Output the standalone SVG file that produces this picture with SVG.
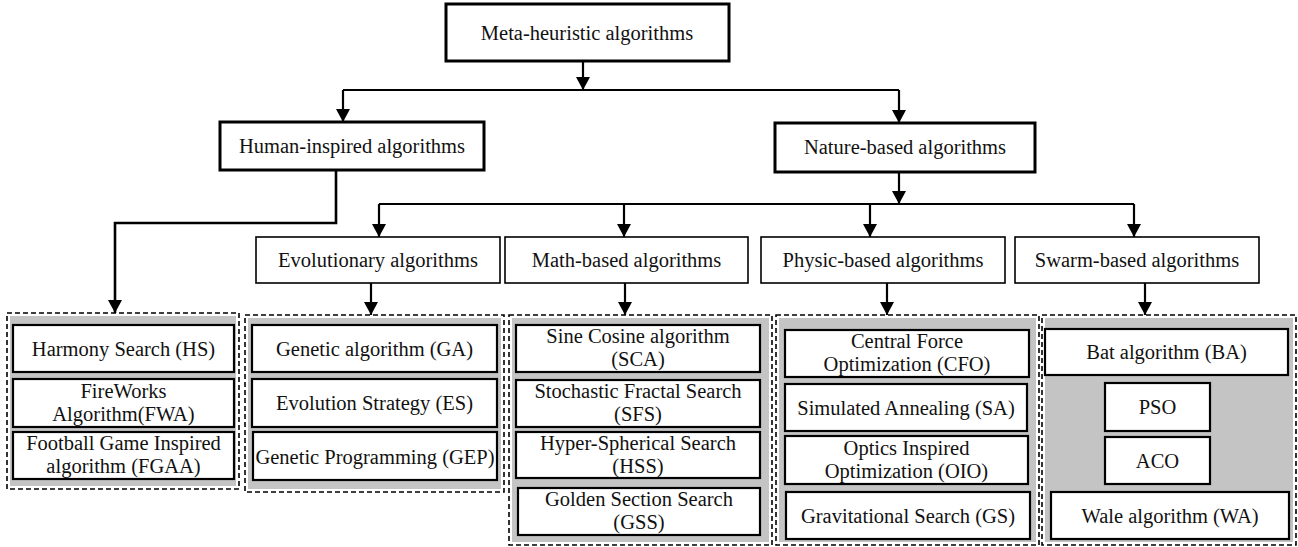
<svg xmlns="http://www.w3.org/2000/svg" width="1298" height="547" viewBox="0 0 1298 547">
<defs>
<marker id="ah" viewBox="0 0 13 14" refX="13" refY="7" markerWidth="13" markerHeight="14" markerUnits="userSpaceOnUse" orient="auto">
<path d="M0,0 L13,7 L0,14 z" fill="#000"/>
</marker>
<style>
text{font-family:'Liberation Serif','Times New Roman',Times,serif;font-size:20.5px;fill:#111;text-anchor:middle}
.b1{fill:#fff;stroke:#000;stroke-width:3}
.b3{fill:#fff;stroke:#000;stroke-width:1.6}
.bi{fill:#fff;stroke:#000;stroke-width:2.2}
.grp{fill:#fff;stroke:#000;stroke-width:1.6;stroke-dasharray:5,3}
.gf{fill:#c4c4c4}
.c{fill:none;stroke:#000;stroke-width:2.2}
.ca{fill:none;stroke:#000;stroke-width:2.2;marker-end:url(#ah)}
</style>
</defs>
<rect width="1298" height="547" fill="#fff"/>

<g id="connectors">
<path class="ca" d="M583,61 V90"/>
<path class="c" d="M343,90 H899"/>
<path class="ca" d="M343,90 V122"/>
<path class="ca" d="M899,90 V123"/>
<path class="ca" d="M336,170 V223 H115 V313" style="stroke-width:2.6"/>
<path class="ca" d="M899,172 V204"/>
<path class="c" d="M379,204 H1134"/>
<path class="ca" d="M379,204 V237"/>
<path class="ca" d="M624,204 V237"/>
<path class="ca" d="M870,204 V237"/>
<path class="ca" d="M1134,204 V237"/>
<path class="ca" d="M371,283 V315"/>
<path class="ca" d="M625,283 V315"/>
<path class="ca" d="M887,283 V315"/>
<path class="ca" d="M1145,283 V315"/>
</g>

<g id="meta">
<rect class="b1" x="446" y="4" width="283" height="57"/>
<text x="587" y="40">Meta-heuristic algorithms</text>
</g>
<g id="human">
<rect class="b1" x="220" y="122" width="264" height="48"/>
<text x="352" y="153">Human-inspired algorithms</text>
</g>
<g id="nature">
<rect class="b1" x="775" y="123" width="260" height="49"/>
<text x="905" y="154">Nature-based algorithms</text>
</g>

<g id="evolutionary">
<rect class="b3" x="256" y="237" width="244" height="46"/>
<text x="378" y="267">Evolutionary algorithms</text>
</g>
<g id="math">
<rect class="b3" x="505" y="237" width="243" height="46"/>
<text x="626.5" y="267">Math-based algorithms</text>
</g>
<g id="physic">
<rect class="b3" x="761" y="237" width="244" height="46"/>
<text x="883" y="267">Physic-based algorithms</text>
</g>
<g id="swarm">
<rect class="b3" x="1015" y="237" width="244" height="46"/>
<text x="1137" y="267">Swarm-based algorithms</text>
</g>

<g id="group-human">
<rect class="grp" x="7" y="313" width="232" height="176"/>
<rect class="gf" x="10" y="316" width="226" height="170"/>
<g id="hs"><rect class="bi" x="13" y="325" width="221" height="47"/><text x="123.5" y="356">Harmony Search (HS)</text></g>
<g id="fwa"><rect class="bi" x="13" y="379" width="221" height="48"/><text x="123.5" y="397.5">FireWorks</text><text x="123.5" y="420.5">Algorithm(FWA)</text></g>
<g id="fgaa"><rect class="bi" x="13" y="432" width="221" height="47"/><text x="123.5" y="450">Football Game Inspired</text><text x="123.5" y="473">algorithm (FGAA)</text></g>
</g>

<g id="group-evolutionary">
<rect class="grp" x="245" y="315" width="259" height="177"/>
<rect class="gf" x="248" y="318" width="253" height="171"/>
<g id="ga"><rect class="bi" x="252" y="325" width="245" height="47"/><text x="374.5" y="356">Genetic algorithm (GA)</text></g>
<g id="es"><rect class="bi" x="252" y="379" width="245" height="48"/><text x="374.5" y="410">Evolution Strategy (ES)</text></g>
<g id="gep"><rect class="bi" x="253" y="432" width="244" height="48"/><text x="375" y="463.5">Genetic Programming (GEP)</text></g>
</g>

<g id="group-math">
<rect class="grp" x="509" y="315" width="263" height="230"/>
<rect class="gf" x="512" y="318" width="257" height="224"/>
<g id="sca"><rect class="bi" x="516" y="325" width="244" height="47"/><text x="638" y="343">Sine Cosine algorithm</text><text x="638" y="366">(SCA)</text></g>
<g id="sfs"><rect class="bi" x="516" y="380" width="244" height="47"/><text x="638" y="398">Stochastic Fractal Search</text><text x="638" y="421">(SFS)</text></g>
<g id="hss"><rect class="bi" x="516" y="432" width="244" height="46"/><text x="638" y="449.5">Hyper-Spherical Search</text><text x="638" y="472.5">(HSS)</text></g>
<g id="gss"><rect class="bi" x="518" y="488" width="242" height="47"/><text x="639" y="506">Golden Section Search</text><text x="639" y="529">(GSS)</text></g>
</g>

<g id="group-physic">
<rect class="grp" x="776" y="315" width="263" height="230"/>
<rect class="gf" x="779" y="318" width="257" height="224"/>
<g id="cfo"><rect class="bi" x="785" y="330" width="244" height="47"/><text x="907" y="348">Central Force</text><text x="907" y="371">Optimization (CFO)</text></g>
<g id="sa"><rect class="bi" x="785" y="384" width="242" height="47"/><text x="906" y="414.5">Simulated Annealing (SA)</text></g>
<g id="oio"><rect class="bi" x="785" y="436" width="243" height="48"/><text x="906.5" y="454.5">Optics Inspired</text><text x="906.5" y="477.5">Optimization (OIO)</text></g>
<g id="gs"><rect class="bi" x="786" y="492" width="244" height="47"/><text x="908" y="522.5">Gravitational Search (GS)</text></g>
</g>

<g id="group-swarm">
<rect class="grp" x="1042" y="315" width="254" height="230"/>
<rect class="gf" x="1045" y="318" width="248" height="224"/>
<g id="ba"><rect class="bi" x="1045" y="329" width="243" height="46"/><text x="1166.5" y="359">Bat algorithm (BA)</text></g>
<g id="pso"><rect class="bi" x="1105" y="383" width="105" height="48"/><text x="1157.5" y="414">PSO</text></g>
<g id="aco"><rect class="bi" x="1105" y="437" width="105" height="47"/><text x="1157.5" y="467.5">ACO</text></g>
<g id="wa"><rect class="bi" x="1051" y="492" width="238" height="47"/><text x="1170" y="522.5">Wale algorithm (WA)</text></g>
</g>
</svg>
